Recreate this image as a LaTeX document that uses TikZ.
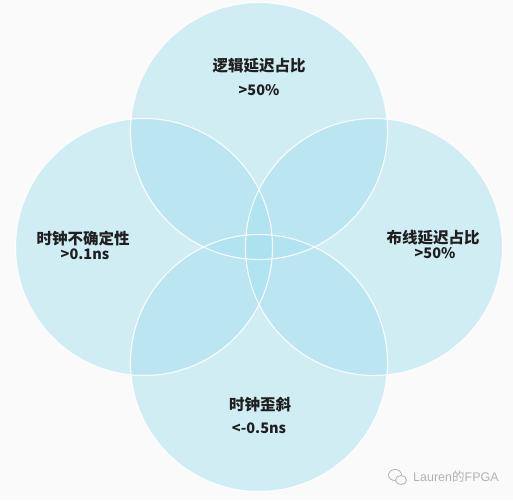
\documentclass[tikz,border=0pt]{standalone}
\usepackage{fontspec}
\setmainfont{Noto Sans CJK SC}
\newfontfamily\cjk{Noto Sans CJK SC}
\newfontfamily\wm{Liberation Sans}
\definecolor{bg}{RGB}{250,250,250}
\definecolor{vennfill}{RGB}{168,225,240}
\definecolor{wmgrey}{RGB}{178,178,178}
\begin{document}
\begin{tikzpicture}[x=1pt,y=-1pt,
  venn/.style={circle, minimum size=257pt, inner sep=0pt, fill=vennfill, fill opacity=0.5},
  rim/.style={draw=white, line width=1.1pt, draw opacity=0.9},
  cn/.style={font=\cjk\bfseries\fontsize{15.5}{18}\selectfont, text=black!88, inner sep=0pt},
  num/.style={font=\cjk\bfseries\fontsize{14.5}{17}\selectfont, text=black!88, inner sep=0pt},
  wmtext/.style={font=\wm\fontsize{12.5}{14}\selectfont, text=wmgrey, inner sep=0pt, anchor=west}]
\useasboundingbox[fill=bg] (0,0) rectangle (513,500);
% circles
\node[venn] (ct) at (259,131) {};
\node[venn] (cl) at (144,247) {};
\node[venn] (cr) at (374,247) {};
\node[venn] (cb) at (259,363) {};
\draw[rim] (ct.center) circle (128.5);
\draw[rim] (cl.center) circle (128.5);
\draw[rim] (cr.center) circle (128.5);
\draw[rim] (cb.center) circle (128.5);
% labels
\node[cn] (t1) at (259,66) {逻辑延迟占比};
\node[num] (t2) at (259,90) {>50\%};
\node[cn] (l1) at (83,239) {时钟不确定性};
\node[num] (l2) at (85,254) {>0.1ns};
\node[cn] (r1) at (433,238) {布线延迟占比};
\node[num] (r2) at (435,253) {>50\%};
\node[cn] (b1) at (260,405) {时钟歪斜};
\node[num] (b2) at (259,428) {<-0.5ns};
% watermark
\coordinate (ic) at (397,477);
\draw[wmgrey, line width=0.8pt] ([shift={(-2,-2)}]ic) ellipse (6.5 and 5.5);
\draw[wmgrey, line width=0.8pt, fill=bg] ([shift={(4,3)}]ic) ellipse (5.5 and 4.5);
\node[wmtext] (wm) at (413,477) {Lauren{\cjk 的}FPGA};
\end{tikzpicture}
\end{document}
